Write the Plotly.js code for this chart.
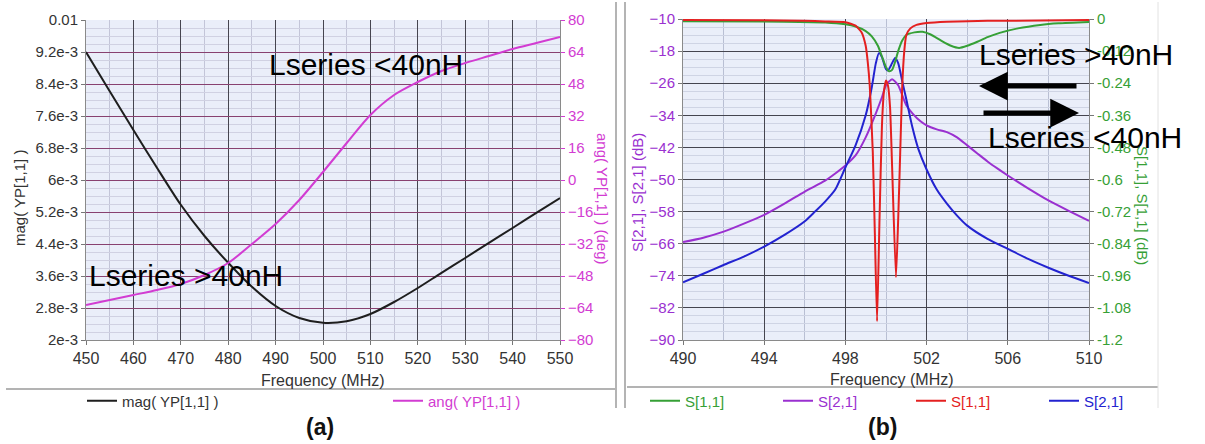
<!DOCTYPE html>
<html>
<head>
<meta charset="utf-8">
<script src="https://cdn.plot.ly/plotly-3.0.1.min.js"></script>
<style>
  html, body { margin: 0; padding: 0; background: #ffffff; }
  #chart { width: 1205px; height: 444px; }
</style>
</head>
<body>
<div id="chart"></div>
<script>
// ---- (a) admittance YP[1,1] versus frequency ----
const freqA = [450, 455, 460, 465, 470, 475, 480, 485, 490, 495, 500,
               505, 510, 515, 520, 525, 530, 535, 540, 545, 550];
const magYP = [0.0092, 0.00822, 0.00725, 0.0063, 0.00538, 0.0046, 0.00393, 0.00333, 0.00285, 0.00255, 0.00243,
               0.00247, 0.00265, 0.00295, 0.0033, 0.00368, 0.00405, 0.00443, 0.0048, 0.00518, 0.00555];
const angYP = [-62.5, -60, -57.5, -55, -52, -47.5, -41.5, -32, -22, -10, 4,
               18.5, 32.5, 42.5, 49, 54.5, 58.5, 62, 65.5, 68.5, 71.5];

const magTickVals = [0.002, 0.0028, 0.0036, 0.0044, 0.0052, 0.006, 0.0068, 0.0076, 0.0084, 0.0092, 0.01];
const magTickText = ['2e-3', '2.8e-3', '3.6e-3', '4.4e-3', '5.2e-3', '6e-3', '6.8e-3', '7.6e-3', '8.4e-3', '9.2e-3', '0.01'];
const angTickVals = [-80, -64, -48, -32, -16, 0, 16, 32, 48, 64, 80];
const freqATicks = [450, 460, 470, 480, 490, 500, 510, 520, 530, 540, 550];

// ---- (b) S-parameters versus frequency ----
// S[2,1] (purple), left axis
const freqS21a = [490, 491, 492, 493, 494, 495, 496, 497, 497.5, 498, 498.5, 499, 499.5, 499.8, 500, 500.3,
                  500.6, 500.8, 501, 501.3, 501.7, 502, 502.5, 503, 503.5, 504, 504.5, 505, 505.5, 506, 507, 508, 509, 510];
const s21a = [-65.6, -64.5, -63, -61, -58.8, -56, -53, -50.3, -48.5, -46.5, -44, -39.5, -33.5, -29.5, -26.5, -25,
              -26.5, -29, -31.5, -33.5, -35.5, -36.5, -37.5, -38.2, -39.5, -41.5, -43.5, -45.5, -47.3, -49, -52.2, -55.2, -57.8, -60.3];

// S[2,1] (blue), left axis
const freqS21b = [490, 491, 492, 493, 494, 495, 496, 496.5, 497, 497.5, 498, 498.5, 499, 499.3, 499.5, 499.65, 499.8,
                  500, 500.1, 500.25, 500.45, 500.6, 500.8, 501, 501.3, 501.6, 502, 502.5, 503, 503.5, 504, 505, 506, 507, 508, 509, 510];
const s21b = [-75.6, -73.5, -71.3, -69.2, -66.7, -63.8, -60.4, -58, -55.5, -52.5, -47, -41.5, -34, -27, -21, -18.5, -19.5,
              -22.5, -22.8, -21.5, -19.7, -21, -25.5, -30, -37, -42.5, -47.5, -52.5, -56, -59, -61.5, -64.8, -67.3, -69.8, -72, -74, -75.8];

// S[1,1] (green), right axis
const freqS11a = [490, 495, 497, 498, 498.5, 499, 499.3, 499.6, 499.8, 500, 500.15, 500.3, 500.45, 500.6, 500.8, 501,
                  501.4, 501.8, 502.2, 502.7, 503.2, 503.6, 504, 504.5, 505, 505.6, 506.5, 507.6, 508.5, 510];
const s11a = [-0.008, -0.01, -0.013, -0.02, -0.028, -0.045, -0.065, -0.1, -0.14, -0.18, -0.195, -0.19, -0.16, -0.12, -0.08, -0.06,
              -0.05, -0.048, -0.058, -0.08, -0.1, -0.108, -0.1, -0.085, -0.068, -0.052, -0.035, -0.022, -0.016, -0.011];

// S[1,1] (red), right axis
const freqS11b = [490, 494, 496, 497, 498, 498.5, 498.8, 499, 499.1, 499.2, 499.35, 499.45, 499.56, 499.68, 499.8, 499.9,
                  500, 500.1, 500.2, 500.3, 500.49, 500.6, 500.7, 500.8, 500.9, 501, 501.2, 501.5, 502, 503, 505, 510];
const s11b = [-0.004, -0.005, -0.007, -0.009, -0.012, -0.025, -0.05, -0.1, -0.16, -0.25, -0.5, -0.8, -1.13, -0.75, -0.4, -0.27,
              -0.23, -0.25, -0.33, -0.55, -0.965, -0.75, -0.5, -0.25, -0.12, -0.06, -0.035, -0.022, -0.015, -0.01, -0.007, -0.004];

const dbLeftTicks = [-90, -82, -74, -66, -58, -50, -42, -34, -26, -18, -10];
const dbRightVals = [-1.2, -1.08, -0.96, -0.84, -0.72, -0.6, -0.48, -0.36, -0.24, -0.12, 0];
const dbRightText = ['-1.2', '-1.08', '-0.96', '-0.84', '-0.72', '-0.6', '-0.48', '-0.36', '-0.24', '-0.12', '0'];
const freqBTicks = [490, 494, 498, 502, 506, 510];

// ---- colours ----
const C = {
  mag: '#1e1e1e', ang: '#d23cd2',
  green: '#36a036', purple: '#9a30d0', red: '#e42020', blue: '#2323d0'
};

const W = 1205, H = 444;
const px = x => x / W;
const py = y => 1 - y / H;

const traces = [
  { x: freqA, y: magYP, xaxis: 'x', yaxis: 'y', mode: 'lines', legend: 'legend',
    name: '<span style="color:#333333">mag( YP[1,1] )</span>',
    line: { color: C.mag, width: 2, shape: 'spline', smoothing: 0.8 } },
  { x: freqA, y: angYP, xaxis: 'x', yaxis: 'y2', mode: 'lines', legend: 'legend',
    name: '<span style="color:#d23cd2">ang( YP[1,1] )</span>',
    line: { color: C.ang, width: 2, shape: 'spline', smoothing: 0.8 } },

  { x: freqS21a, y: s21a, xaxis: 'x2', yaxis: 'y3', mode: 'lines', legend: 'legend2', legendrank: 2,
    name: '<span style="color:#9a30d0">S[2,1]</span>',
    line: { color: C.purple, width: 2, shape: 'spline', smoothing: 0.6 } },
  { x: freqS21b, y: s21b, xaxis: 'x2', yaxis: 'y3', mode: 'lines', legend: 'legend2', legendrank: 4,
    name: '<span style="color:#2323d0">S[2,1]</span>',
    line: { color: C.blue, width: 2, shape: 'spline', smoothing: 0.6 } },
  { x: freqS11a, y: s11a, xaxis: 'x2', yaxis: 'y4', mode: 'lines', legend: 'legend2', legendrank: 1,
    name: '<span style="color:#36a036">S[1,1]</span>',
    line: { color: C.green, width: 2, shape: 'spline', smoothing: 0.6 } },
  { x: freqS11b, y: s11b, xaxis: 'x2', yaxis: 'y4', mode: 'lines', legend: 'legend2', legendrank: 3,
    name: '<span style="color:#e42020">S[1,1]</span>',
    line: { color: C.red, width: 2, shape: 'spline', smoothing: 0.5 } }
];

const fontFam = '"Liberation Sans", Arial, sans-serif';
const yDomA = [py(340), py(20)];
const yDomB = [py(340), py(19)];

const baseX = {
  showgrid: true, gridcolor: '#45454f', gridwidth: 1, zeroline: false,
  ticks: 'outside', ticklen: 4, tickcolor: '#777777',
  showline: true, linecolor: '#8a8a8a', linewidth: 1,
  tickfont: { family: fontFam, size: 16, color: '#333333' }
};

// text placed by its centre at a pixel position
function label(text, x, y, opts) {
  return Object.assign({
    text: text, xref: 'paper', yref: 'paper', x: px(x), y: py(y),
    xanchor: 'center', yanchor: 'middle', showarrow: false
  }, opts || {});
}

function arrow(xHead, yHead, dx) {
  return {
    text: '', xref: 'paper', yref: 'paper', x: px(xHead), y: py(yHead),
    axref: 'pixel', ayref: 'pixel', ax: dx, ay: 0, showarrow: true,
    arrowhead: 2, arrowsize: 1.15, arrowwidth: 5, arrowcolor: '#000000'
  };
}

const layout = {
  width: W, height: H,
  margin: { l: 0, r: 0, t: 0, b: 0 },
  paper_bgcolor: '#ffffff',
  plot_bgcolor: '#eaeef9',
  font: { family: fontFam, color: '#333333' },
  showlegend: true,

  xaxis: Object.assign({}, baseX, {
    domain: [px(86), px(560)], range: [450, 550], anchor: 'y',
    tickmode: 'array', tickvals: freqATicks,
    minor: { tickmode: 'linear', tick0: 450, dtick: 5, showgrid: true, gridcolor: '#c3c5d8', ticks: '' }
  }),
  yaxis: {
    domain: yDomA, range: [0.002, 0.01], anchor: 'x',
    tickmode: 'array', tickvals: magTickVals, ticktext: magTickText,
    showgrid: true, gridcolor: '#55465a', zeroline: false,
    ticks: 'outside', ticklen: 4, tickcolor: '#777777',
    showline: true, linecolor: '#8a8a8a',
    tickfont: { family: fontFam, size: 15, color: '#333333' },
    minor: { tickmode: 'linear', tick0: 0.002, dtick: 0.0002, showgrid: true, gridcolor: '#d0d1e2', ticks: '' }
  },
  yaxis2: {
    overlaying: 'y', side: 'right', anchor: 'x', range: [-80, 80],
    tickmode: 'array', tickvals: angTickVals,
    showgrid: true, gridcolor: 'rgba(200,60,140,0.45)', zeroline: false,
    ticks: 'outside', ticklen: 4, tickcolor: '#d23cd2',
    showline: true, linecolor: '#8a8a8a',
    tickfont: { family: fontFam, size: 15, color: C.ang }
  },

  xaxis2: Object.assign({}, baseX, {
    domain: [px(683), px(1089)], range: [490, 510], anchor: 'y3',
    tickmode: 'array', tickvals: freqBTicks,
    minor: { tickmode: 'linear', tick0: 490, dtick: 2, showgrid: true, gridcolor: '#b9bfd3', ticks: '' }
  }),
  yaxis3: {
    domain: yDomB, range: [-90, -10], anchor: 'x2',
    tickmode: 'array', tickvals: dbLeftTicks,
    showgrid: true, gridcolor: '#45454f', zeroline: false,
    ticks: 'outside', ticklen: 4, tickcolor: '#777777',
    showline: true, linecolor: '#8a8a8a',
    tickfont: { family: fontFam, size: 15, color: C.purple },
    minor: { tickmode: 'linear', tick0: -90, dtick: 2, showgrid: true, gridcolor: '#cfd4e4', ticks: '' }
  },
  yaxis4: {
    overlaying: 'y3', side: 'right', anchor: 'x2', range: [-1.2, 0],
    tickmode: 'array', tickvals: dbRightVals, ticktext: dbRightText,
    showgrid: false, zeroline: false,
    ticks: 'outside', ticklen: 4, tickcolor: '#777777',
    showline: true, linecolor: '#8a8a8a',
    tickfont: { family: fontFam, size: 15, color: C.green }
  },

  legend: {
    x: px(82), y: py(401), xanchor: 'left', yanchor: 'middle',
    orientation: 'h', bgcolor: 'rgba(0,0,0,0)',
    entrywidth: 261, entrywidthmode: 'pixels', itemwidth: 30,
    font: { family: fontFam, size: 15 }
  },
  legend2: {
    x: px(645), y: py(401), xanchor: 'left', yanchor: 'middle',
    orientation: 'h', bgcolor: 'rgba(0,0,0,0)',
    entrywidth: 88, entrywidthmode: 'pixels', itemwidth: 30,
    font: { family: fontFam, size: 15 }
  },

  shapes: [
    // panel frames and legend separators
    { type: 'line', xref: 'paper', yref: 'paper', x0: px(6), x1: px(615), y0: py(389), y1: py(389),
      line: { color: '#9a9a9a', width: 1.5 } },
    { type: 'line', xref: 'paper', yref: 'paper', x0: px(627), x1: px(1158), y0: py(387), y1: py(387),
      line: { color: '#9a9a9a', width: 1.5 } },
    { type: 'line', xref: 'paper', yref: 'paper', x0: px(616), x1: px(616), y0: py(2), y1: py(408),
      line: { color: '#b4b4b4', width: 2 } },
    { type: 'line', xref: 'paper', yref: 'paper', x0: px(625), x1: px(625), y0: py(2), y1: py(408),
      line: { color: '#b4b4b4', width: 2 } },
    { type: 'line', xref: 'paper', yref: 'paper', x0: px(1158), x1: px(1158), y0: py(2), y1: py(408),
      line: { color: '#e2e2e2', width: 1 } }
  ],

  annotations: [
    // axis titles
    label('Frequency (MHz)', 323, 380, { font: { size: 16, color: '#333333' } }),
    label('Frequency (MHz)', 892, 379, { font: { size: 16, color: '#333333' } }),
    label('mag( YP[1,1] )', 19, 198, { textangle: -90, font: { size: 15, color: '#333333' } }),
    label('ang( YP[1,1] ) (deg)', 603, 198, { textangle: 90, font: { size: 15, color: C.ang } }),
    label('S[2,1], S[2,1] (dB)', 637, 193, { textangle: -90, font: { size: 15, color: C.purple } }),
    label('S[1,1], S[1,1] (dB)', 1143, 205, { textangle: 90, font: { size: 15, color: C.green } }),

    // panel captions
    label('<b>(a)</b>', 320, 427, { font: { size: 23, color: '#111111' } }),
    label('<b>(b)</b>', 883, 427, { font: { size: 23, color: '#111111' } }),

    // inductance notes
    label('Lseries <40nH', 267, 65, { xanchor: 'left', font: { size: 30, color: '#000000' } }),
    label('Lseries >40nH', 87, 275, { xanchor: 'left', font: { size: 30, color: '#000000' } }),
    label('Lseries >40nH', 977, 55, { xanchor: 'left', font: { size: 30, color: '#000000' } }),
    label('Lseries <40nH', 986, 138, { xanchor: 'left', font: { size: 30, color: '#000000' } }),

    // direction arrows
    arrow(979, 86, 99),
    arrow(1079, 113, -97)
  ]
};

Plotly.newPlot('chart', traces, layout, { displayModeBar: false, staticPlot: true });
</script>
</body>
</html>
